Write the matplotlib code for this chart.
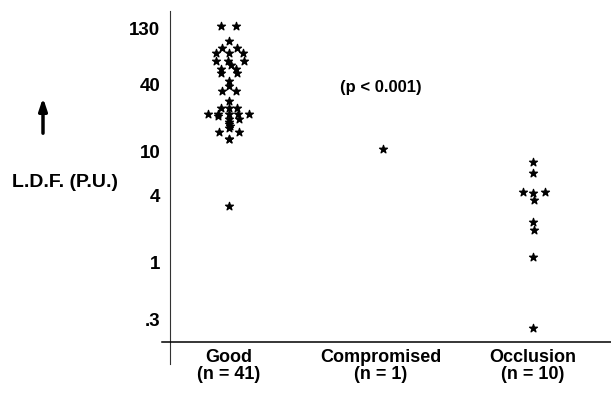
import matplotlib.pyplot as plt
import numpy as np

# Значення L.D.F. (P.U.)
categories = ['Good\n(n = 41)', 'Compromised\n(n = 1)', 'Occlusion\n(n = 10)']

good_values = [135, 135, 98.6, 84.7, 84.7, 76.3, 76.3, 76.3, 65, 65, 65, 59.4,
               54.1, 54.1, 50.3, 50.3, 42.8, 38.6, 34.8, 34.8, 28.2,
               24.2, 24.2, 24.2, 21.6, 21.6, 21.6, 21.6, 21.6, 20.5,
               19.3, 19.3, 18.3, 17.4, 16.7, 16.0, 14.7, 14.7, 12.7, 12.7, 3.15]
good_spread = [-0.05, 0.045, 0, -0.045, 0.05, -0.085, 0, 0.09, -0.085, -0.005, 0.10, 0.01,
               -0.05, 0.045, -0.055, 0.05, 0, 0, -0.048, 0.046, 0,
               -0.055, 0, 0.05, -0.138, -0.07, 0, 0.06, 0.13, -0.07,
               0, 0.068, 0, 0, 0.005, 0, -0.065, 0.068, 0, 0.003, 0]

comp_values = [10.3]
comp_spread = [0.01]

occl_values = [7.9, 6.26, 4.19, 4.10, 4.24, 3.59, 2.27, 1.91, 1.08, 0.248]
occl_spread = [0, 0, -0.068, 0, 0.079, 0.008, 0, 0.008, 0, 0]

y_ticks = [0.3, 1, 4, 10, 40, 130]
y_ticklabels = ['.3', '1', '4', '10', '40', '130']

plt.rcParams['font.family'] = ['Liberation Sans', 'DejaVu Sans']

fig = plt.figure(figsize=(6.11, 4.02), dpi=100)
ax = fig.add_axes([170 / 611, 59 / 402, 441 / 611, 331 / 402])

groups = [(good_values, good_spread), (comp_values, comp_spread), (occl_values, occl_spread)]
for i, (vals, spread) in enumerate(groups):
    xs = i + np.array(spread)
    ax.scatter(xs, vals, marker='*', s=36, color='black', linewidths=0.9, zorder=3)

ax.set_yscale('log')
ax.set_ylim(0.185, 183)
ax.set_xlim(-0.388, 2.513)

ax.set_yticks(y_ticks)
ax.set_yticklabels(y_ticklabels)
ax.minorticks_off()
ax.set_xticks([0, 1, 2])
ax.set_xticklabels(categories, linespacing=1.0)
ax.tick_params(axis='y', length=0, pad=7, labelsize=13.5)
ax.tick_params(axis='x', length=0, pad=4, labelsize=13)
for lab in ax.get_xticklabels() + ax.get_yticklabels():
    lab.set_fontweight('bold')

for s in ax.spines.values():
    s.set_visible(False)

# осі як на рисунку: вертикальна лінія трохи нижче горизонтальної
ax.plot([0, 0], [-0.066, 1], transform=ax.transAxes, color='#333333', lw=0.8, clip_on=False)
ax.plot([-0.018, 1], [0, 0], transform=ax.transAxes, color='black', lw=1.1, clip_on=False)

ax.text(1, 37.6, '(p < 0.001)', ha='center', va='center', fontsize=12, fontweight='bold')

fig.text(65 / 611, 1 - 183 / 402, 'L.D.F. (P.U.)', ha='center', va='center',
         fontsize=14, fontweight='bold')
ax.annotate('', xy=(43, 402 - 96), xytext=(43, 402 - 137),
            xycoords='figure pixels', textcoords='figure pixels',
            arrowprops=dict(arrowstyle='-|>,head_length=0.6,head_width=0.2',
                            lw=2.5, color='black', mutation_scale=12))

plt.savefig('out.png', dpi=100)
